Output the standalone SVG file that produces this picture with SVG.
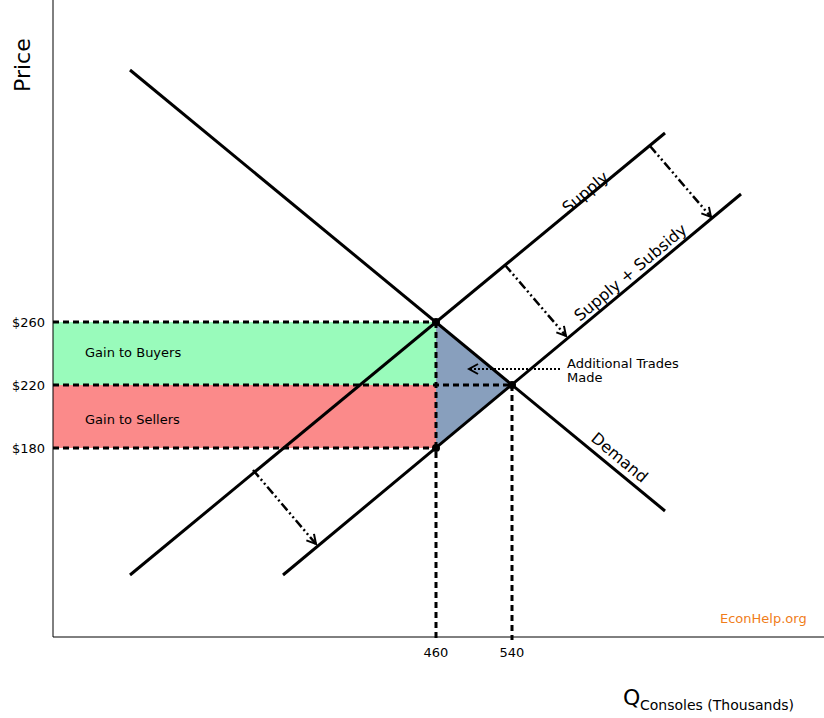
<svg xmlns="http://www.w3.org/2000/svg" width="824" height="718" viewBox="0 0 824 718">
<defs>
<style>
.ln{stroke:#000;stroke-width:3;fill:none}
.dash{stroke:#000;stroke-width:3;stroke-dasharray:6,4;fill:none}
.dd{stroke:#000;stroke-width:2.5;stroke-dasharray:9,3,2,3,2,3;fill:none}
text{font-family:"DejaVu Sans",sans-serif;fill:#000}
</style>
<marker id="ah" markerWidth="12" markerHeight="12" refX="10" refY="6" orient="auto" markerUnits="userSpaceOnUse">
<path d="M1,1 L10,6 L1,11" fill="none" stroke="#000" stroke-width="2"/>
</marker>
</defs>
<rect width="824" height="718" fill="#fff"/>
<g id="areas">
<rect x="53" y="322" width="383" height="63" fill="#99fbbb"/>
<rect x="53" y="385" width="383" height="63" fill="#fb8a8a"/>
<polygon points="436,322 512,385 436,448" fill="#889fbd"/>
</g>
<g id="axes">
<line x1="53" y1="0" x2="53" y2="637" stroke="#000" stroke-width="1"/>
<line x1="53" y1="637" x2="824" y2="637" stroke="#000" stroke-width="1"/>
</g>
<g id="connectors">
<line class="dash" x1="53" y1="322" x2="436" y2="322"/>
<line class="dash" x1="53" y1="385" x2="512" y2="385"/>
<line class="dash" x1="53" y1="448" x2="436" y2="448"/>
<line class="dash" x1="436" y1="322" x2="436" y2="640"/>
<line class="dash" x1="512" y1="385" x2="512" y2="640"/>
<line class="dd" x1="505" y1="265" x2="566" y2="336" marker-end="url(#ah)"/>
<line class="dd" x1="650" y1="146" x2="711" y2="217" marker-end="url(#ah)"/>
<line class="dd" x1="253" y1="470" x2="316" y2="544" marker-end="url(#ah)"/>
<line x1="560" y1="369" x2="469" y2="369" stroke="#000" stroke-width="2" stroke-dasharray="2,2" marker-end="url(#ah)"/>
</g>
<g id="supply"><line class="ln" x1="130" y1="575" x2="665" y2="133"/>
<text transform="translate(568,214) rotate(-40)" font-size="16">Supply</text></g>
<g id="subsidy"><line class="ln" x1="283" y1="575" x2="741" y2="194"/>
<text transform="translate(580,322) rotate(-40)" font-size="16">Supply + Subsidy</text></g>
<g id="demand"><line class="ln" x1="130" y1="70" x2="665" y2="511"/>
<text transform="translate(590,440) rotate(40)" font-size="16">Demand</text></g>
<g id="points">
<circle cx="436" cy="322" r="4"/><circle cx="512" cy="385" r="4"/><circle cx="436" cy="448" r="4"/>
</g>
<g id="labels" font-size="13">
<text x="85" y="357">Gain to Buyers</text>
<text x="85" y="424">Gain to Sellers</text>
<text x="567" y="368">Additional Trades</text>
<text x="567" y="382">Made</text>
<text x="12" y="327">$260</text>
<text x="12" y="390">$220</text>
<text x="12" y="453">$180</text>
<text x="436" y="657" text-anchor="middle">460</text>
<text x="512" y="657" text-anchor="middle">540</text>
<text x="720" y="623" fill="#f07d1a" style="fill:#f07d1a">EconHelp.org</text>
<text transform="translate(30,92) rotate(-90)" font-size="22">Price</text>
<text x="623" y="705" font-size="22">Q</text>
<text x="640" y="710" font-size="14">Consoles  (Thousands)</text>
</g>
</svg>
